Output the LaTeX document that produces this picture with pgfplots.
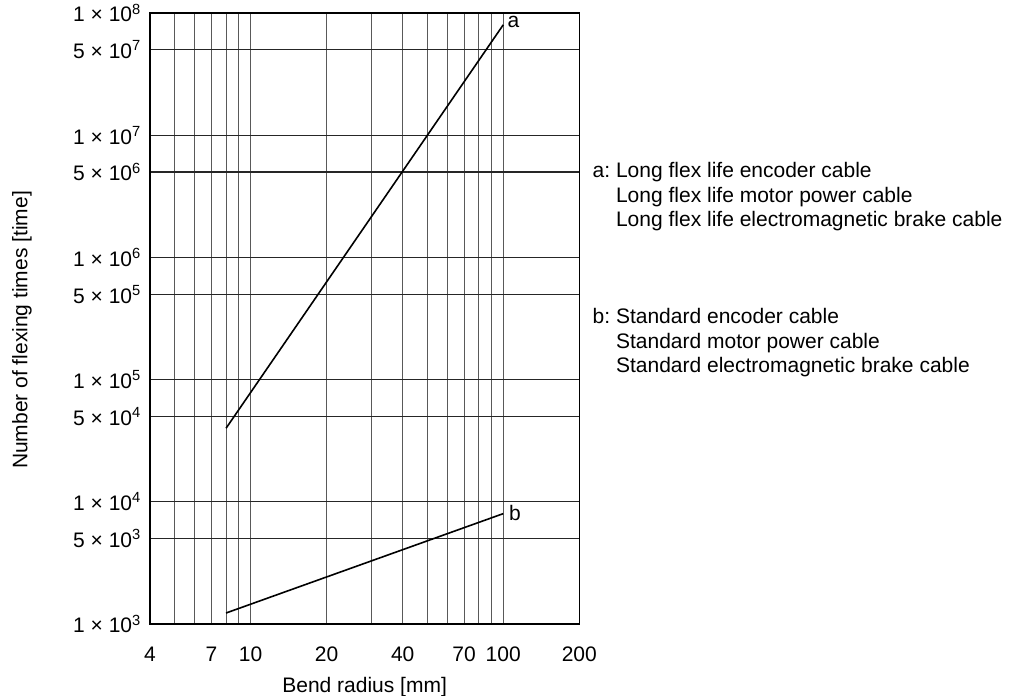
\documentclass[border=0pt]{standalone}
\usepackage{fontspec}
\setmainfont{Liberation Sans}
\usepackage{pgfplots}
\pgfplotsset{compat=1.18}
\frenchspacing
\begin{document}
\begin{tikzpicture}[font=\fontsize{10.5}{12.15}\selectfont]
\path[use as bounding box] (0,0) rectangle (506pt,348pt);
\begin{axis}[
  at={(75pt,36pt)}, anchor=south west,
  width=214.65pt, height=305.5pt, scale only axis,
  xmode=log, ymode=log,
  xmin=4, xmax=200, ymin=1e3, ymax=1e8,
  xtick={4,5,6,7,8,9,10,20,30,40,50,60,70,80,90,100,200},
  xticklabels={4,,,7,,,10,20,,40,,,70,,,100,200},
  ytick={1e3,5e3,1e4,5e4,1e5,5e5,1e6,5e6,1e7,5e7,1e8},
  yticklabels={1 × 10\textsuperscript{3},5 × 10\textsuperscript{3},1 × 10\textsuperscript{4},5 × 10\textsuperscript{4},1 × 10\textsuperscript{5},5 × 10\textsuperscript{5},1 × 10\textsuperscript{6},5 × 10\textsuperscript{6},1 × 10\textsuperscript{7},5 × 10\textsuperscript{7},1 × 10\textsuperscript{8}},
  xminorticks=false, yminorticks=false,
  major tick length=0pt,
  xmajorgrids, ymajorgrids,
  x grid style={black!65, line width=0.5pt},
  y grid style={black!85, line width=0.65pt},
  axis line style={black, line width=0.65pt},
  xticklabel style={anchor=base, yshift=-18.75pt, inner sep=0pt},
  yticklabel style={anchor=east, xshift=-4.15pt, inner sep=0pt},
  xlabel={Bend radius [mm]},
  xlabel style={at={(axis description cs:0.5,0)}, anchor=base, yshift=-34.25pt, inner sep=0pt},
  clip=false,
]
\addplot[black, line width=0.8pt] coordinates {(8,4e4) (100,8e7)}
  node[pos=1, anchor=west, inner sep=0pt, xshift=1.8pt, yshift=1.3pt] {a};
\addplot[black, line width=0.8pt] coordinates {(8,1230) (100,8000)}
  node[pos=1, anchor=west, inner sep=0pt, xshift=2.5pt, yshift=0.5pt] {b};
\end{axis}
\node[rotate=90, anchor=center, inner sep=0pt] at (11pt,183pt) {Number of flexing times [time]};
\node[anchor=base west, inner sep=0pt] at (296.15pt,259pt) {a: Long flex life encoder cable};
\node[anchor=base west, inner sep=0pt] at (296.15pt,246.85pt) {\phantom{a: }Long flex life motor power cable};
\node[anchor=base west, inner sep=0pt] at (296.15pt,234.7pt) {\phantom{a: }Long flex life electromagnetic brake cable};
\node[anchor=base west, inner sep=0pt] at (296.15pt,186pt) {b: Standard encoder cable};
\node[anchor=base west, inner sep=0pt] at (296.15pt,173.85pt) {\phantom{b: }Standard motor power cable};
\node[anchor=base west, inner sep=0pt] at (296.15pt,161.7pt) {\phantom{b: }Standard electromagnetic brake cable};
\end{tikzpicture}
\end{document}
